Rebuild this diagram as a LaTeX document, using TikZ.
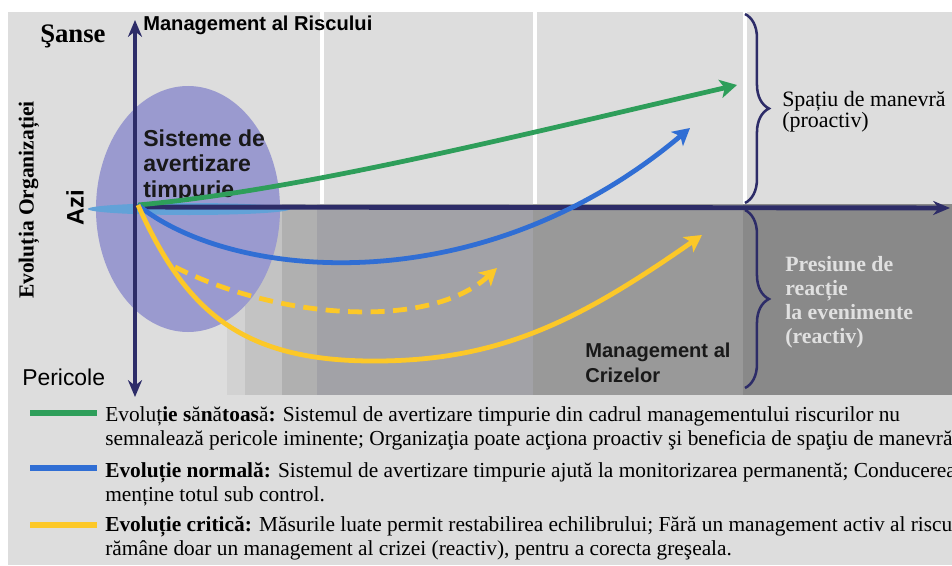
\documentclass[tikz,border=0pt]{standalone}
\usepackage{fontspec}
\setmainfont{Liberation Serif}
\setsansfont{Liberation Sans}
\usetikzlibrary{arrows.meta,decorations.pathreplacing}
\definecolor{fundal}{RGB}{221,221,221}
\definecolor{axa}{RGB}{45,44,104}
\definecolor{mov}{RGB}{154,154,207}
\definecolor{bleu}{RGB}{98,162,216}
\definecolor{verde}{RGB}{46,158,90}
\definecolor{albastru}{RGB}{48,110,212}
\definecolor{galben}{RGB}{252,200,40}
\definecolor{zona1}{RGB}{210,210,210}
\definecolor{zona2}{RGB}{195,195,195}
\definecolor{zona3}{RGB}{176,176,176}
\definecolor{zona4}{RGB}{162,162,167}
\definecolor{zona5}{RGB}{153,153,153}
\definecolor{zona6}{RGB}{137,137,137}
\tikzset{
  axis/.style={draw=axa,line width=3.5pt,-{Stealth[length=12pt,width=10pt]}},
  evol/.style={line width=3.4pt,-{Stealth[length=12pt,width=13pt,inset=3pt]}},
  accolade/.style={draw=axa,line width=1.8pt,decorate,decoration={brace,amplitude=17pt,aspect=0.5}},
  lbl/.style={inner sep=0pt,anchor=base west,align=left},
  legend/.style={lbl,font=\fontsize{15.2}{17}\selectfont},
}
\newcommand{\evolutie}[4]{
\draw[#1,line width=4.2pt] (30,#2) -- (97,#2);
\node[legend] (leg#1) at (105,#3) {#4};
}

\begin{document}
\begin{tikzpicture}[x=0.025cm,y=-0.025cm]
\useasboundingbox (0,0) rectangle (952,565);
\fill[fundal] (8,12) rectangle (952,565);
\draw[white,line width=3pt] (322,12) -- (322,204) (535,12) -- (535,204) (745,12) -- (745,204);
% zone reactive
\fill[zona1] (227,204) rectangle (245,395);
\fill[zona2] (245,204) rectangle (282,395);
\fill[zona3] (282,204) rectangle (317,395);
\fill[zona4] (317,204) rectangle (533,395);
\fill[zona5] (533,204) rectangle (743,395);
\fill[zona6] (743,204) rectangle (952,395);
\fill[mov] (188,209) ellipse [x radius=92, y radius=123];
\fill[bleu] (189,209) ellipse [x radius=101, y radius=6];

\node[lbl,font=\sffamily\bfseries\fontsize{14.3}{17}\selectfont] (risc) at (143,31) {Management al Riscului};
\node[lbl,font=\bfseries\fontsize{19}{22}\selectfont] (sanse) at (40,43) {Şanse};
\node[lbl,font=\sffamily\fontsize{16.3}{19}\selectfont] (pericole) at (22,385) {Pericole};
\node[rotate=90,inner sep=0pt,font=\bfseries\fontsize{15.3}{18}\selectfont] (organizatie) at (29,200) {Evoluția Organizației};
\node[rotate=90,inner sep=0pt,font=\sffamily\bfseries\fontsize{17}{20}\selectfont] (azi) at (75,208) {Azi};
\node[lbl,font=\sffamily\bfseries\fontsize{16.4}{17.8}\selectfont,text=black!90] (sisteme) at (143,197) {Sisteme de\\avertizare\\timpurie};
\node[lbl,font=\sffamily\bfseries\fontsize{14.3}{17.5}\selectfont,text=black!90] (crize) at (585,382) {Management al\\Crizelor};
\node[lbl,font=\fontsize{15.6}{13}\selectfont] (manevra) at (782,128) {Spațiu de manevră\\(proactiv)};
\node[lbl,font=\bfseries\fontsize{15.5}{17}\selectfont,text=black!12] (presiune) at (785,343) {Presiune de\\reacție\\la evenimente\\(reactiv)};

\draw[accolade] (745,14) -- (745,203);
\draw[accolade] (745,210) -- (745,388);

\coordinate (azi0) at (135,207);
\coordinate (sus) at (135,20);
\coordinate (jos) at (135,397);
\coordinate (viitor) at (950,208);
\draw[axis,{Stealth[length=12pt,width=10pt]}-{Stealth[length=12pt,width=10pt]}] (sus) -- (jos);
\draw[axis] (azi0) -- (viitor);

\coordinate (origine) at (138,205);
\coordinate (ramura) at (175,267);
\coordinate (sanatos) at (737,85);
\coordinate (normal) at (690,128);
\coordinate (critic) at (702,235);
\coordinate (recuperare) at (497,268);
\draw[evol,verde] (origine) .. controls (300,190) and (500,140) .. (sanatos);
\draw[evol,albastru] (origine) .. controls (230,280) and (480,305) .. (normal);
\draw[evol,galben] (origine) .. controls (185,310) and (240,360) .. (370,361)
  .. controls (500,362) and (580,320) .. (critic);
\draw[evol,galben,dash pattern=on 10pt off 6pt] (ramura) .. controls (280,320) and (430,330) .. (recuperare);

\evolutie{verde}{413}{445}{Evoluț\textbf{ie s}ă\textbf{n}ă\textbf{toas}ă\textbf{:} Sistemul de avertizare timpurie din cadrul managementului riscurilor nu\\semnalează pericole iminente; Organizaţia poate acţiona proactiv şi beneficia de spaţiu de manevră}
\evolutie{albastru}{468}{501}{\textbf{Evoluție normală:} Sistemul de avertizare timpurie ajută la monitorizarea permanentă; Conducerea\\menține totul sub control.}
\evolutie{galben}{525}{555.7}{\textbf{Evoluție critică:} Măsurile luate permit restabilirea echilibrului; Fără un management activ al riscului\\rămâne doar un management al crizei (reactiv), pentru a corecta greşeala.}
\end{tikzpicture}
\end{document}
